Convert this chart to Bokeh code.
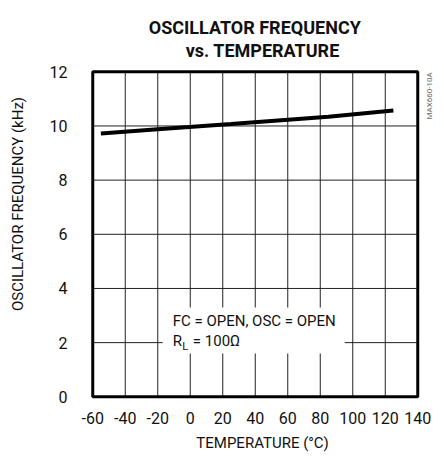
import math
from bokeh.plotting import figure
from bokeh.models import Label, FixedTicker, Range1d
from bokeh.embed import file_html
from bokeh.resources import INLINE

# ---- data ----
temps = [-55, -20, 25, 85, 125]
freq_khz = [9.72, 9.88, 10.07, 10.34, 10.57]
x_ticks = [-60, -40, -20, 0, 20, 40, 60, 80, 100, 120, 140]
x_tick_labels = ["-60", "-40", "-20", "0", "20", "40", "60", "80", "100", "120", "140"]
y_ticks = [0, 2, 4, 6, 8, 10, 12]
box_left, box_right, box_bottom, box_top = -17, 95, 1.6, 3.3

FONT = "Roboto"
x_min, x_max = x_ticks[0], x_ticks[-1]
y_min, y_max = y_ticks[0], y_ticks[-1]

# frame is extended above/right so that title and watermark live inside it
p = figure(output_backend="svg", toolbar_location=None,
           frame_width=346, frame_height=391,
           x_range=Range1d(-62, 150.92), y_range=Range1d(-0.1, 14.337),
           min_border_left=89, min_border_right=0, min_border_top=8, min_border_bottom=43)
p.background_fill_color = "white"
p.border_fill_color = "white"
p.outline_line_color = None
p.grid.visible = False

for ax in (p.xaxis[0], p.yaxis[0]):
    ax.axis_line_color = None
    ax.major_tick_line_color = None
    ax.minor_tick_line_color = None
    ax.major_tick_out = 0
    ax.major_tick_in = 0
    ax.minor_tick_out = 0
    ax.minor_tick_in = 0
    ax.major_label_text_font = FONT
    ax.major_label_text_font_size = "16px"
    ax.major_label_text_color = "#111"
    ax.axis_label_text_font = FONT
    ax.axis_label_text_font_size = "15px"
    ax.axis_label_text_font_style = "normal"
    ax.axis_label_text_color = "#111"

p.xaxis.ticker = FixedTicker(ticks=x_ticks)
p.xaxis.major_label_overrides = {t: s for t, s in zip(x_ticks, x_tick_labels)}
p.yaxis.ticker = FixedTicker(ticks=y_ticks)
p.xaxis.axis_label = "TEMPERATURE (°C)"
p.yaxis.axis_label = "OSCILLATOR FREQUENCY (kHz)"
p.xaxis.major_label_standoff = 12
p.yaxis.major_label_standoff = 22
p.xaxis.axis_label_standoff = 7
p.yaxis.axis_label_standoff = 20

# grid lines inside the chart box
inner_x = x_ticks[1:-1]
inner_y = y_ticks[1:-1]
p.segment(x0=inner_x, x1=inner_x, y0=[y_min] * len(inner_x), y1=[y_max] * len(inner_x),
          line_color="#222", line_width=1)
p.segment(x0=[x_min] * len(inner_y), x1=[x_max] * len(inner_y), y0=inner_y, y1=inner_y,
          line_color="#222", line_width=1)

# white box behind annotation text
p.quad(left=[box_left], right=[box_right], bottom=[box_bottom], top=[box_top],
       fill_color="white", line_color=None)

# chart border
p.quad(left=[x_min], right=[x_max], bottom=[y_min], top=[y_max],
       fill_color=None, line_color="black", line_width=3)

p.line(temps, freq_khz, line_color="black", line_width=4)

def lab(x, y, text, size, style="normal", align="left", baseline="alphabetic",
        angle=0, color="#111"):
    p.add_layout(Label(x=x, y=y, text=text, text_font=FONT, text_font_size=size,
                       text_font_style=style, text_align=align, text_baseline=baseline,
                       angle=angle, text_color=color))

# title
lab(39.7, 13.625, "OSCILLATOR FREQUENCY", "18px", style="bold", align="center")
lab(44.6, 12.776, "vs. TEMPERATURE", "18px", style="bold", align="center")

# watermark
lab(147.4, 11.11, "MAX660-10A", "8px", align="center", baseline="middle",
    angle=math.pi / 2, color="#666")

# conditions
lab(-10.8, 2.81, "FC = OPEN,  OSC = OPEN", "15px")
lab(-10.8, 2.07, "R", "15px")
lab(-5.0, 1.84, "L", "11px")
lab(1.6, 2.07, "= 100Ω", "15px")

open("out.html", "w").write(file_html(p, INLINE))
